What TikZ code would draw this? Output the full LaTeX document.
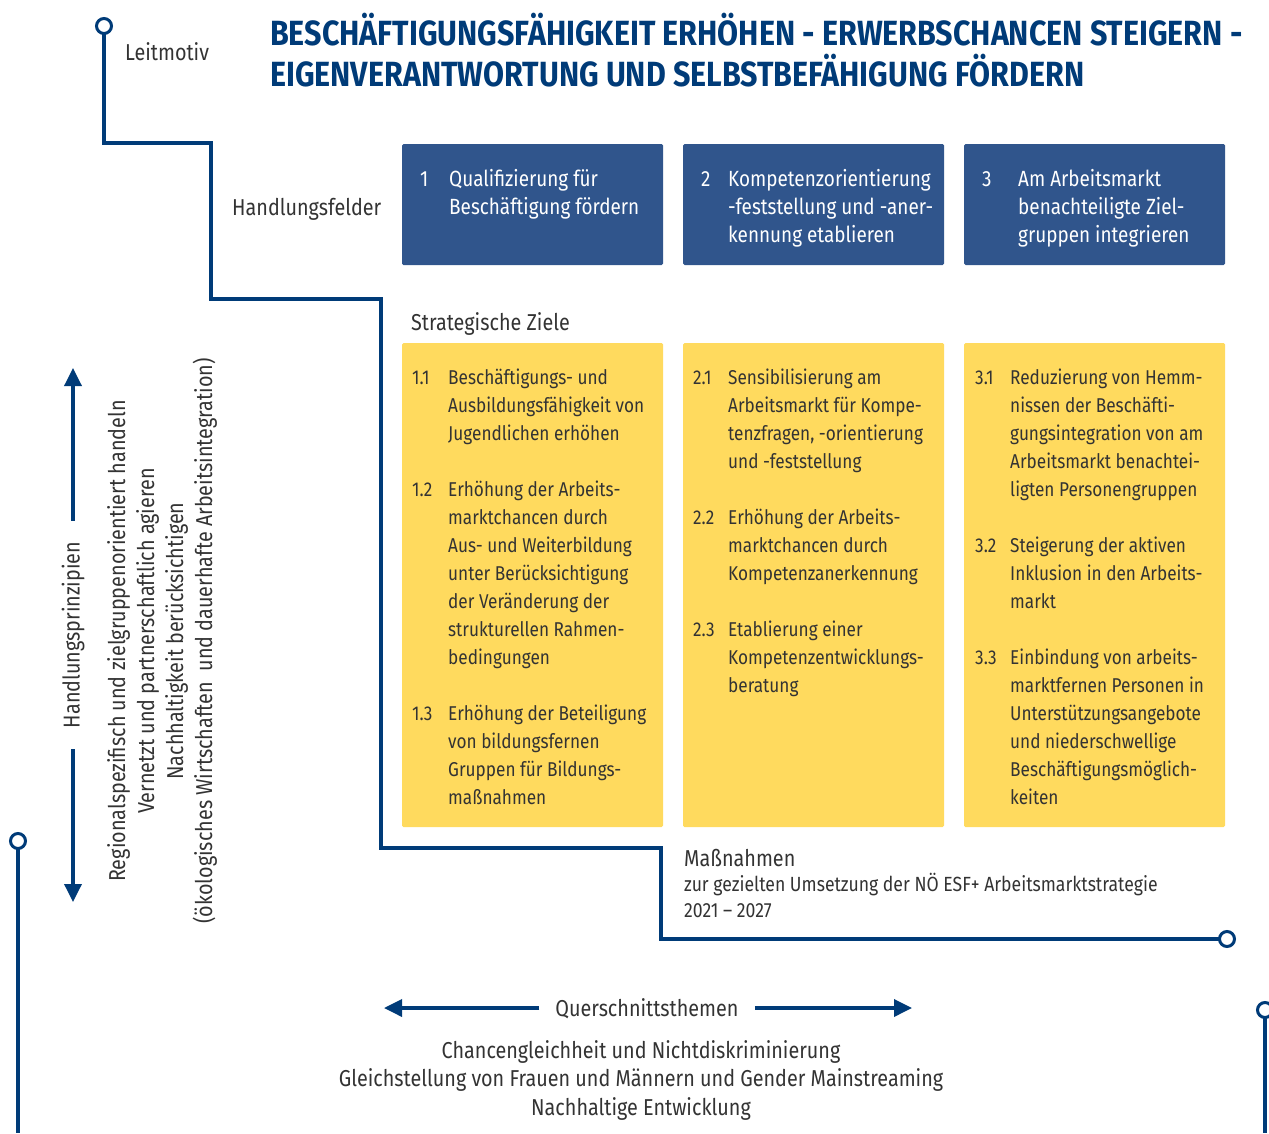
\documentclass[tikz,border=0pt]{standalone}
\usepackage{fontspec}
\setmainfont{Fira Sans}[FakeStretch=0.86]
\newfontfamily\titelfont{Fira Sans}[FakeStretch=0.87]
\usetikzlibrary{arrows.meta}
\definecolor{esfblau}{HTML}{003B78}
\definecolor{feldblau}{HTML}{30558C}
\definecolor{zielgelb}{HTML}{FFDA5E}
\definecolor{textgrau}{HTML}{333333}

\begin{document}
\begin{tikzpicture}[x=1pt,y=-1pt]
            \tikzstyle{grundtext}=[text=textgrau, inner sep=0pt, anchor=base west, align=left, font=\fontsize{20}{28}\selectfont]
            \tikzstyle{kopftext}=[grundtext, font=\fontsize{23}{28}\selectfont]
            \tikzstyle{feldtext}=[grundtext, text=white, font=\fontsize{22}{28}\selectfont]
            \tikzstyle{feld}=[fill=feldblau, rounded corners=1.5pt]
            \tikzstyle{ziel}=[fill=zielgelb, rounded corners=1.5pt]
            \tikzstyle{leitlinie}=[draw=esfblau, line width=3.5pt]
            \tikzstyle{endpunkt}=[circle, draw=esfblau, line width=3pt, fill=white, minimum size=15pt, inner sep=0pt]
            \tikzstyle{pfeil}=[draw=esfblau, line width=3.5pt, -{Triangle[length=18pt,width=17pt]}]
            \useasboundingbox (0,0) rectangle (1269,1133);

            % Leitmotiv (mehrzeilige Knoten: base = Grundlinie der letzten Zeile)
            \node[text=esfblau, inner sep=0pt, anchor=base west, align=left, font=\titelfont\bfseries\fontsize{35}{41}\selectfont] (titel) at (270,86)
                {BESCHÄFTIGUNGSFÄHIGKEIT ERHÖHEN - ERWERBSCHANCEN STEIGERN -\\EIGENVERANTWORTUNG UND SELBSTBEFÄHIGUNG FÖRDERN};
            \node[kopftext] (leitmotiv) at (125,60) {Leitmotiv};

            % Linie
            \coordinate (lm start) at (104,26);
            \coordinate (lm ende) at (1227,939);
            \coordinate (links start) at (18,841);
            \coordinate (links ende) at (18,1133);
            \coordinate (rechts start) at (1265,1010);
            \coordinate (rechts ende) at (1265,1133);
            \draw[leitlinie] (lm start) -- (104,143) -- (211,143) -- (211,299) -- (381,299)
                -- (381,848) -- (661,848) -- (661,939) -- (lm ende);
            \draw[leitlinie] (links start) -- (links ende);
            \draw[leitlinie] (rechts start) -- (rechts ende);
            \node[endpunkt] at (lm start) {};
            \node[endpunkt] at (lm ende) {};
            \node[endpunkt] at (links start) {};
            \node[endpunkt] at (rechts start) {};

            % Handlungsfelder
            \node[kopftext] (felder) at (232,215) {Handlungsfelder};
            \fill[feld] (402,144) rectangle (663,265);
            \fill[feld] (683,144) rectangle (944,265);
            \fill[feld] (964,144) rectangle (1225,265);
            \node[feldtext] (f1nr) at (420,186) {1};
            \node[feldtext] (f1) at (449,214) {Qualifizierung für\\Beschäftigung fördern};
            \node[feldtext] (f2nr) at (701,186) {2};
            \node[feldtext] (f2) at (728,242) {Kompetenzorientierung\\-feststellung und -aner-\\kennung etablieren};
            \node[feldtext] (f3nr) at (982,186) {3};
            \node[feldtext] (f3) at (1018,242) {Am Arbeitsmarkt\\benachteiligte Ziel-\\gruppen integrieren};

            % Strategische Ziele
            \node[kopftext] (ziele) at (411,330) {Strategische Ziele};
            \fill[ziel] (402,343) rectangle (663,827);
            \fill[ziel] (683,343) rectangle (944,827);
            \fill[ziel] (964,343) rectangle (1225,827);

            \node[grundtext] (z11nr) at (412,384) {1.1};
            \node[grundtext] (z11) at (448,440) {Beschäftigungs- und\\Ausbildungsfähigkeit von\\Jugendlichen erhöhen};
            \node[grundtext] (z12nr) at (412,496) {1.2};
            \node[grundtext] (z12) at (448,664) {Erhöhung der Arbeits-\\marktchancen durch\\Aus- und Weiterbildung\\unter Berücksichtigung\\der Veränderung der\\strukturellen Rahmen-\\bedingungen};
            \node[grundtext] (z13nr) at (412,720) {1.3};
            \node[grundtext] (z13) at (448,804) {Erhöhung der Beteiligung\\von bildungsfernen\\Gruppen für Bildungs-\\maßnahmen};

            \node[grundtext] (z21nr) at (693,384) {2.1};
            \node[grundtext] (z21) at (728,468) {Sensibilisierung am\\Arbeitsmarkt für Kompe-\\tenzfragen, -orientierung\\und -feststellung};
            \node[grundtext] (z22nr) at (693,524) {2.2};
            \node[grundtext] (z22) at (728,580) {Erhöhung der Arbeits-\\marktchancen durch\\Kompetenzanerkennung};
            \node[grundtext] (z23nr) at (693,636) {2.3};
            \node[grundtext] (z23) at (728,692) {Etablierung einer\\Kompetenzentwicklungs-\\beratung};

            \node[grundtext] (z31nr) at (975,384) {3.1};
            \node[grundtext] (z31) at (1010,496) {Reduzierung von Hemm-\\nissen der Beschäfti-\\gungsintegration von am\\Arbeitsmarkt benachtei-\\ligten Personengruppen};
            \node[grundtext] (z32nr) at (975,552) {3.2};
            \node[grundtext] (z32) at (1010,608) {Steigerung der aktiven\\Inklusion in den Arbeits-\\markt};
            \node[grundtext] (z33nr) at (975,664) {3.3};
            \node[grundtext] (z33) at (1010,804) {Einbindung von arbeits-\\marktfernen Personen in\\Unterstützungsangebote\\und niederschwellige\\Beschäftigungsmöglich-\\keiten};

            % Massnahmen
            \node[kopftext] (massnahmen) at (684,866) {Maßnahmen};
            \node[grundtext, font=\fontsize{20.5}{26}\selectfont] (umsetzung) at (684,917)
                {zur gezielten Umsetzung der NÖ ESF+ Arbeitsmarktstrategie\\2021 -- 2027};

            % Handlungsprinzipien
            \node[kopftext, anchor=center, rotate=90, inner xsep=21pt] (prinzipien) at (73,635) {Handlungsprinzipien};
            \coordinate (prinzipien oben) at (73,368);
            \coordinate (prinzipien unten) at (73,902);
            \draw[pfeil] (prinzipien.east) -- (prinzipien oben);
            \draw[pfeil] (prinzipien.west) -- (prinzipien unten);
            \node[kopftext, anchor=center, align=center, rotate=90, font=\fontsize{23}{29}\selectfont] (prinzipientext) at (162,641)
                {Regionalspezifisch und zielgruppenorientiert handeln\\Vernetzt und partnerschaftlich agieren\\Nachhaltigkeit berücksichtigen\\(ökologisches Wirtschaften~ und dauerhafte Arbeitsintegration)};

            % Querschnittsthemen
            \node[kopftext, anchor=center, inner xsep=16pt] (querschnitt) at (647,1009) {Querschnittsthemen};
            \coordinate (querschnitt links) at (384,1008);
            \coordinate (querschnitt rechts) at (912,1008);
            \draw[pfeil] (querschnitt.west |- querschnitt links) -- (querschnitt links);
            \draw[pfeil] (querschnitt.east |- querschnitt rechts) -- (querschnitt rechts);
            \node[kopftext, anchor=base, align=center, font=\fontsize{23}{28.5}\selectfont] (themen) at (641,1115)
                {Chancengleichheit und Nichtdiskriminierung\\Gleichstellung von Frauen und Männern und Gender Mainstreaming\\Nachhaltige Entwicklung};
        \end{tikzpicture}
\end{document}
